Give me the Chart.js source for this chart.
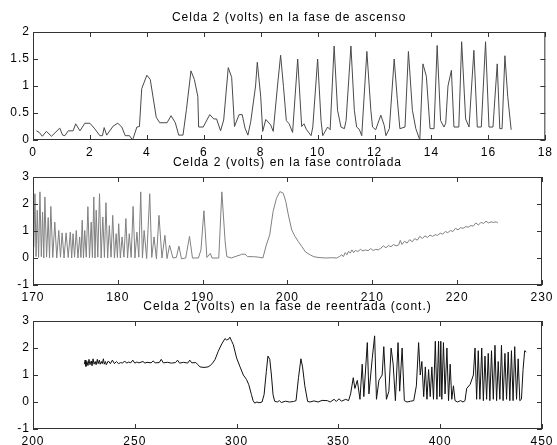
<!DOCTYPE html>
<html>
<head>
<meta charset="utf-8">
<script src="https://cdn.jsdelivr.net/npm/chart.js@4.4.0/dist/chart.umd.min.js"></script>
<style>
  body { margin: 0; background: #fff; }
  #wrap { position: relative; width: 557px; height: 445px; }
  canvas { position: absolute; left: 0; }
</style>
</head>
<body>
<div id="wrap">
  <canvas id="c1" width="557" height="160" style="top:0px"></canvas>
  <canvas id="c2" width="557" height="160" style="top:145px"></canvas>
  <canvas id="c3" width="557" height="156" style="top:289px"></canvas>
</div>
<script>
// titles
const titles = [
  'Celda 2 (volts) en la fase de ascenso',
  'Celda 2 (volts) en la fase controlada',
  'Celda 2 (volts) en la fase de reentrada (cont.)'
];

// tick labels
const xTicks1 = [0, 2, 4, 6, 8, 10, 12, 14, 16, 18];
const yTicks1 = [0, 0.5, 1, 1.5, 2];
const xTicks2 = [170, 180, 190, 200, 210, 220, 230];
const yTicks2 = [-1, 0, 1, 2, 3];
const xTicks3 = [200, 250, 300, 350, 400, 450];
const yTicks3 = [-1, 0, 1, 2, 3];

// fase de ascenso
const ascX = [0.12, 0.22, 0.33, 0.47, 0.65, 0.94, 1.04, 1.12, 1.24, 1.41, 1.5, 1.65, 1.82, 2.0, 2.15, 2.35, 2.44, 2.5, 2.59, 2.82,
  2.98, 3.12, 3.24, 3.39, 3.5, 3.65, 3.74, 3.82, 4.0, 4.12, 4.33, 4.45, 4.71, 4.85, 5.0, 5.12, 5.27, 5.39, 5.55, 5.67,
  5.79, 5.82, 5.98, 6.21, 6.35, 6.45, 6.59, 6.7, 6.86, 6.98, 7.08, 7.24, 7.35, 7.45, 7.55, 7.65, 7.82, 7.88, 8.0, 8.07,
  8.18, 8.35, 8.44, 8.59, 8.7, 8.8, 8.9, 9.0, 9.12, 9.3, 9.44, 9.52, 9.6, 9.77, 9.83, 10.0, 10.12, 10.18, 10.35, 10.44,
  10.58, 10.7, 10.82, 10.94, 11.0, 11.17, 11.29, 11.37, 11.46, 11.55, 11.73, 11.87, 11.93, 12.04, 12.22, 12.34, 12.4, 12.52, 12.69, 12.8,
  12.89, 13.07, 13.19, 13.33, 13.45, 13.59, 13.7, 13.82, 13.95, 14.09, 14.2, 14.32, 14.44, 14.5, 14.58, 14.7, 14.79, 14.96, 15.06, 15.2,
  15.32, 15.49, 15.61, 15.75, 15.9, 16.02, 16.16, 16.31, 16.4, 16.48, 16.58, 16.68, 16.8];
const ascY = [0.17, 0.14, 0.07, 0.16, 0.07, 0.22, 0.09, 0.08, 0.17, 0.17, 0.3, 0.17, 0.31, 0.31, 0.22, 0.08, 0.08, 0.23, 0.09, 0.26,
  0.31, 0.24, 0.08, 0.08, 0.0, 0.24, 0.25, 0.95, 1.2, 1.12, 0.42, 0.32, 0.32, 0.45, 0.32, 0.09, 0.09, 0.56, 1.28, 1.12,
  0.81, 0.24, 0.24, 0.47, 0.39, 0.39, 0.17, 0.37, 1.34, 1.16, 0.25, 0.47, 0.47, 0.22, 0.09, 0.34, 1.0, 1.44, 0.81, 0.16,
  0.38, 0.28, 0.16, 1.0, 1.57, 0.99, 0.36, 0.3, 0.14, 1.5, 0.25, 0.3, 0.2, 0.08, 0.24, 1.5, 0.36, 0.08, 0.24, 0.19,
  1.74, 0.55, 0.24, 0.21, 0.36, 1.74, 0.55, 0.24, 0.2, 0.08, 1.64, 0.55, 0.24, 0.19, 0.46, 0.27, 0.08, 0.21, 1.5, 0.75,
  0.21, 0.24, 1.64, 0.55, 0.21, 0.0, 1.41, 1.18, 0.21, 0.21, 1.75, 0.36, 0.24, 0.31, 1.0, 1.29, 0.24, 0.24, 1.82, 0.39,
  0.24, 1.66, 0.24, 0.24, 1.82, 0.24, 0.24, 1.41, 0.21, 0.21, 1.56, 0.8, 0.19];

// fase controlada
const ctrlX = [170.1, 170.23, 170.36, 170.5, 170.66, 170.82, 170.98, 171.13, 171.27, 171.4, 171.6, 171.79, 171.95, 172.1, 172.33, 172.57, 172.8, 173.04, 173.24, 173.43,
  173.66, 173.9, 174.15, 174.4, 174.56, 174.72, 174.9, 175.1, 175.3, 175.5, 175.65, 175.8, 175.95, 176.1, 176.28, 176.47, 176.66, 176.86, 177.0, 177.17,
  177.31, 177.45, 177.64, 177.84, 178.03, 178.23, 178.42, 178.6, 178.8, 179.0, 179.2, 179.4, 179.6, 179.8, 179.95, 180.1, 180.3, 180.5, 180.72, 180.95,
  181.15, 181.35, 181.57, 181.8, 182.02, 182.25, 182.47, 182.7, 182.9, 183.1, 183.4, 183.76, 184.0, 184.27, 184.55, 184.85, 185.2, 185.55, 185.8, 186.1,
  186.5, 186.9, 187.2, 187.5, 188.0, 188.45, 188.8, 189.5, 189.8, 190.15, 190.5, 190.9, 191.1, 191.9, 192.26, 192.65, 192.85, 193.4, 193.8, 194.4,
  194.6, 195.0, 195.3, 196.0, 196.6, 197.1, 197.5, 197.9, 198.3, 198.7, 199.1, 199.5, 199.8, 200.1, 200.5, 200.9, 201.3, 201.7, 202.1, 202.7,
  203.1, 203.6, 204.5, 205.2, 205.8, 206.1, 206.4, 206.6, 206.8, 207.0, 207.2, 207.4, 207.6, 207.8, 208.0, 208.3, 208.6, 208.9, 209.2, 209.5,
  209.8, 210.1, 210.4, 210.7, 211.0, 211.3, 211.6, 211.9, 212.2, 212.5, 212.8, 213.1, 213.3, 213.5, 213.8, 214.1, 214.4, 214.7, 215.0, 215.3,
  215.6, 215.9, 216.2, 216.5, 216.8, 217.1, 217.4, 217.7, 218.0, 218.3, 218.6, 218.9, 219.2, 219.5, 219.8, 220.1, 220.4, 220.7, 221.0, 221.3,
  221.6, 221.9, 222.2, 222.5, 222.8, 223.1, 223.4, 223.7, 224.0, 224.3, 224.6, 224.8];
const ctrlY = [0.4, 2.38, 0.05, 1.77, 0.02, 2.45, 0.05, 1.7, 0.0, 2.26, 0.03, 1.5, 0.0, 1.91, 0.02, 1.33, 0.0, 1.02, 0.03, 0.93,
  0.0, 0.93, 0.02, 0.96, 0.0, 0.9, 0.03, 1.02, 0.0, 0.78, 0.02, 1.4, 0.0, 1.02, 0.03, 1.9, 0.0, 1.33, 0.02, 2.26,
  0.0, 1.77, 0.03, 2.38, 0.0, 1.52, 0.02, 2.05, 0.0, 1.2, 0.03, 1.58, 0.0, 0.9, 0.02, 1.27, 0.0, 0.78, 0.03, 1.46,
  0.0, 0.9, 0.02, 1.91, 0.0, 0.96, 0.03, 2.45, 0.0, 1.02, -0.02, 2.38, 0.02, 0.78, -0.03, 1.58, 0.0, 0.84, -0.02, 0.47,
  0.0, 0.02, 0.44, -0.03, 0.0, 0.8, 0.0, 0.0, 0.3, 1.75, 0.02, 0.17, 0.0, 0.0, 2.45, 0.6, 0.05, 0.0, 0.05, 0.11,
  0.14, 0.14, 0.05, 0.05, 0.03, 0.0, 0.48, 0.85, 1.72, 2.21, 2.46, 2.4, 2.09, 1.6, 1.04, 0.79, 0.6, 0.42, 0.23, 0.11,
  0.05, 0.02, 0.0, 0.01, 0.0, 0.05, 0.12, 0.05, 0.2, 0.12, 0.25, 0.18, 0.3, 0.2, 0.28, 0.24, 0.32, 0.26, 0.3, 0.27,
  0.35, 0.28, 0.32, 0.3, 0.36, 0.45, 0.38, 0.46, 0.42, 0.5, 0.45, 0.48, 0.65, 0.5, 0.62, 0.55, 0.68, 0.6, 0.72, 0.66,
  0.8, 0.72, 0.82, 0.76, 0.85, 0.8, 0.86, 0.84, 0.92, 0.88, 0.98, 0.94, 1.02, 0.98, 1.1, 1.04, 1.12, 1.1, 1.16, 1.14,
  1.2, 1.18, 1.3, 1.22, 1.32, 1.28, 1.36, 1.3, 1.34, 1.32, 1.34, 1.3];

// fase de reentrada
const reeX = [225.2, 225.6, 226, 226.5, 227, 227.5, 228, 228.6, 229, 229.5, 230, 230.6, 231, 231.6, 232, 232.6, 233, 233.6, 234, 234.6,
  235, 235.6, 236, 237, 238, 239, 240, 241, 242, 243, 244, 245, 246, 247, 248, 249, 250, 251, 252, 254,
  255, 256, 258, 259, 260, 262, 263, 264, 266, 268, 270, 271, 272, 274, 276, 277, 278, 280, 281, 282,
  284, 286, 287, 288, 289.4, 291, 292.7, 294.3, 295, 296, 296.7, 297.6, 298.4, 300, 301.6, 303.3, 304.9, 306, 307.3, 308.1,
  308.9, 310, 311, 312.5, 313.5, 314.6, 315.4, 316.3, 317.1, 317.9, 318.7, 320, 321, 322, 324, 326, 328, 329.2, 330.4, 331.6,
  332.4, 333.5, 334.9, 336, 338, 340, 342, 344.6, 346, 347.9, 349, 350.3, 351.5, 353.6, 355, 356, 357.3, 358.1, 359.3, 360.6,
  361.7, 362.5, 364.2, 365, 366.6, 367.8, 368.7, 369.9, 371.5, 372.3, 373.6, 374.8, 375.9, 376.9, 378, 379.3, 380.1, 381.3, 382.4, 383.7,
  385.5, 387, 388.3, 389.4, 390.2, 391, 391.9, 392.7, 393.5, 394.3, 395.1, 395.9, 396.7, 397.6, 398.4, 399.2, 399.8, 400.3, 400.8, 401.6,
  402.4, 403.3, 404.1, 404.9, 405.7, 406.5, 407.3, 408.5, 410, 411.2, 412.2, 413, 414.7, 416.3, 417.1, 417.9, 418.7, 419.5, 420.4, 421.2,
  422, 422.8, 423.6, 424.4, 425.2, 426.1, 426.9, 427.7, 428.5, 429.3, 430.1, 430.9, 431.8, 432.6, 433.4, 434.2, 435, 435.8, 436.6, 437.5,
  438.3, 439.1, 439.9, 440.7, 441.5, 442.3];
const reeY = [1.4, 1.55, 1.32, 1.5, 1.35, 1.58, 1.38, 1.52, 1.34, 1.6, 1.4, 1.5, 1.38, 1.58, 1.42, 1.55, 1.4, 1.5, 1.42, 1.6,
  1.4, 1.5, 1.38, 1.52, 1.42, 1.55, 1.42, 1.5, 1.42, 1.46, 1.44, 1.52, 1.44, 1.48, 1.45, 1.55, 1.44, 1.48, 1.45, 1.5,
  1.44, 1.47, 1.45, 1.52, 1.45, 1.46, 1.58, 1.45, 1.47, 1.44, 1.46, 1.55, 1.44, 1.47, 1.44, 1.55, 1.45, 1.46, 1.38, 1.3,
  1.28, 1.3, 1.35, 1.42, 1.57, 1.88, 2.15, 2.35, 2.3, 2.32, 2.4, 2.25, 2.12, 1.63, 1.32, 1.0, 0.83, 0.64, 0.27, 0.05,
  -0.04, 0.0, -0.03, 0.0, 0.27, 1.13, 1.7, 1.58, 1.0, 0.27, 0.03, 0.0, 0.05, -0.02, 0.03, 0.0, 0.02, 0.05, 0.9, 1.6,
  1.3, 0.6, 0.02, 0.0, 0.04, 0.0, 0.06, 0.05, 0.0, 0.1, 0.02, 0.12, 0.03, 0.1, 0.05, 0.3, 0.9, 0.5, 0.8, 0.1,
  1.4, 0.2, 2.2, 0.3, 1.6, 2.45, 0.1, 0.8, 1.0, 2.05, 0.1, 0.4, 2.0, 1.4, 0.05, 2.2, 0.4, 2.0, 0.05, 0.0,
  0.03, 0.05, 0.6, 2.2, 1.0, 1.5, 0.2, 1.3, 0.1, 1.2, 0.2, 1.3, 0.1, 2.25, 0.1, 2.25, 0.2, 2.25, 0.1, 2.2,
  0.3, 2.0, 0.05, 1.4, 0.1, 0.6, 0.05, 0.0, 0.05, 0.0, 0.05, 0.5, 0.65, 1.0, 2.0, 0.1, 1.9, 0.1, 2.0, 0.05,
  1.7, 0.1, 1.8, 0.05, 1.9, 0.1, 2.1, 0.05, 1.5, 0.1, 2.1, 0.05, 1.8, 0.1, 1.85, 0.05, 1.9, 0.05, 2.05, 0.1,
  1.6, 0.05, 0.1, 1.2, 1.9, 1.85];

const FONT = "'Liberation Sans', Arial, sans-serif";

// matlab-style box with inward tick marks
const boxTicks = {
  id: 'boxTicks',
  beforeDraw(chart) {
    chart.ctx.letterSpacing = '1px';
  },
  afterDatasetsDraw(chart) {
    const ctx = chart.ctx;
    const a = chart.chartArea;
    const xs = chart.scales.x, ys = chart.scales.y;
    ctx.save();
    ctx.strokeStyle = '#333';
    ctx.lineWidth = 1;
    ctx.beginPath();
    xs.ticks.forEach(t => {
      const px = Math.round(xs.getPixelForValue(t.value)) + 0.5;
      ctx.moveTo(px, a.bottom); ctx.lineTo(px, a.bottom - 5);
      ctx.moveTo(px, a.top); ctx.lineTo(px, a.top + 5);
    });
    ys.ticks.forEach(t => {
      const py = Math.round(ys.getPixelForValue(t.value)) + 0.5;
      ctx.moveTo(a.left, py); ctx.lineTo(a.left + 5, py);
      ctx.moveTo(a.right, py); ctx.lineTo(a.right - 5, py);
    });
    ctx.stroke();
    ctx.strokeRect(a.left + 0.5, a.top + 0.5, a.width - 1, a.height - 1);
    ctx.restore();
  }
};

function makePanel(id, title, xv, yv, xt, yt, color, axisH) {
  const pts = xv.map((x, i) => ({ x: x, y: yv[i] }));
  return new Chart(document.getElementById(id).getContext('2d'), {
    type: 'line',
    data: {
      datasets: [{
        data: pts,
        borderColor: color,
        borderWidth: 1,
        pointRadius: 0,
        tension: 0,
        fill: false
      }]
    },
    options: {
      responsive: false,
      animation: false,
      layout: { padding: { left: 0, right: 11, top: 0, bottom: 0 } },
      plugins: {
        legend: { display: false },
        tooltip: { enabled: false },
        title: {
          display: true,
          fullSize: false,
          text: title,
          color: '#000',
          font: { family: FONT, size: 12, weight: 'normal', lineHeight: 1 },
          padding: { top: 12, bottom: 8 }
        }
      },
      scales: {
        x: {
          type: 'linear',
          min: xt[0],
          max: xt[xt.length - 1],
          grid: { display: false, drawTicks: false },
          border: { display: false },
          ticks: { color: '#000', font: { family: FONT, size: 12 }, padding: 5, maxRotation: 0, autoSkip: false,
            callback: v => String(v) },
          afterBuildTicks: s => { s.ticks = xt.map(v => ({ value: v })); },
          afterFit: s => { s.height = axisH; }
        },
        y: {
          min: yt[0],
          max: yt[yt.length - 1],
          grid: { display: false, drawTicks: false },
          border: { display: false },
          ticks: { color: '#000', font: { family: FONT, size: 12 }, padding: 3, autoSkip: false,
            callback: v => String(v) },
          afterBuildTicks: s => { s.ticks = yt.map(v => ({ value: v })); },
          afterFit: s => { s.width = 33; }
        }
      }
    },
    plugins: [boxTicks]
  });
}

makePanel('c1', titles[0], ascX, ascY, xTicks1, yTicks1, '#4a4a4a', 20);
makePanel('c2', titles[1], ctrlX, ctrlY, xTicks2, yTicks2, '#808080', 20);
makePanel('c3', titles[2], reeX, reeY, xTicks3, yTicks3, '#111', 16);
</script>
</body>
</html>
